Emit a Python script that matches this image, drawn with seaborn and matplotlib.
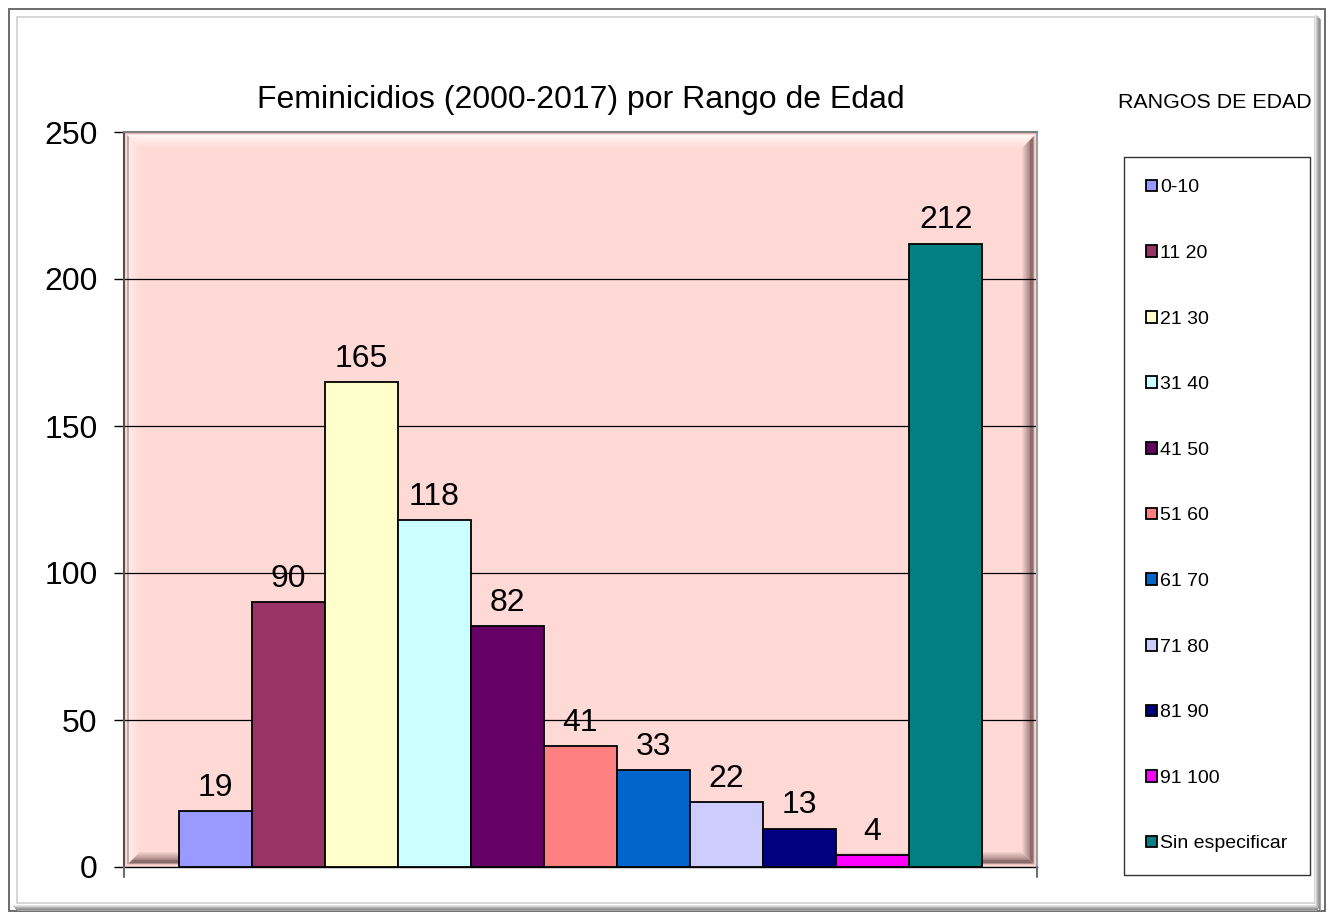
import matplotlib
matplotlib.use("Agg")
import matplotlib.pyplot as plt
import seaborn as sns
import pandas as pd
import numpy as np
from matplotlib.patches import Rectangle, Patch
from matplotlib.lines import Line2D
from matplotlib.colors import to_rgb

categories = ["0-10", "11 20", "21 30", "31 40", "41 50", "51 60",
              "61 70", "71 80", "81 90", "91 100", "Sin especificar"]
values = [19, 90, 165, 118, 82, 41, 33, 22, 13, 4, 212]
colors = ["#9999FF", "#993366", "#FFFFCC", "#CCFFFF", "#660066", "#FF8080",
          "#0066CC", "#CCCCFF", "#000080", "#FF00FF", "#008080"]
yticks = [0, 50, 100, 150, 200, 250]
title = "Feminicidios (2000-2017) por Rango de Edad"
legend_title = "RANGOS DE EDAD"

sns.set_style("white")
plt.rcParams["font.family"] = ["Liberation Sans", "DejaVu Sans"]
for k in ["text.color", "axes.labelcolor", "xtick.color", "ytick.color"]:
    plt.rcParams[k] = "black"

W, H = 1333, 919
fig = plt.figure(figsize=(W / 100, H / 100), dpi=100)
fig.patch.set_facecolor("white")

# outer chart frame
fig.add_artist(Rectangle((8.5 / W, 1 - 911 / H), 1316 / W, 902.5 / H, transform=fig.transFigure,
                         fill=False, edgecolor="#606060", lw=1.3, zorder=0))
fig.add_artist(Rectangle((16.5 / W, 1 - 903 / H), 1298 / W, 886 / H, transform=fig.transFigure,
                         fill=False, edgecolor="#d0d0d0", lw=1.2, zorder=0))
for i, c in enumerate(["#e8e8e8", "#d0d0d0", "#b8b8b8", "#a0a0a0", "#909090", "#a8a8a8"]):
    yy = 1 - (905 + i) / H
    fig.add_artist(Line2D([(12 + i) / W, (1321 - i) / W], [yy, yy], transform=fig.transFigure,
                          color=c, lw=0.8, zorder=0))
    xx = (1315 + i) / W
    fig.add_artist(Line2D([xx, xx], [1 - (905 + i) / H, 1 - (14 + i) / H], transform=fig.transFigure,
                          color=c, lw=0.8, zorder=0))

left, right, top, bottom = 124, 1037, 132, 867
AW, AH = right - left, bottom - top
ax = fig.add_axes([left / W, 1 - bottom / H, AW / W, AH / H])
pink = "#FFD9D6"
ax.set_facecolor(pink)

df = pd.DataFrame({"cat": categories, "val": values})
sns.barplot(data=df, x="cat", y="val", hue="cat", palette=colors, order=categories,
            hue_order=categories, width=1.0, saturation=1, dodge=False, legend=False,
            edgecolor="black", linewidth=1.3, ax=ax, zorder=3)

ax.set_xlim(-1.25, len(categories) - 1 + 1.25)
ax.set_ylim(0, 250)
ax.set_yticks(yticks)
ax.set_yticklabels([str(t) for t in yticks], fontsize=23)
ax.set_xticks([])
ax.set_xlabel("")
ax.set_ylabel("")

# gridlines
for t in yticks[1:]:
    ax.axhline(t, color="black", lw=0.9, zorder=2)

# bevel on plot area (pixel-stepped gradient strips)
def mix(c1, c2, f):
    a, b = np.array(to_rgb(c1)), np.array(to_rgb(c2))
    return tuple(a + (b - a) * f)

n = 14
for i in range(n):
    d = 3 + i
    f = i / (n - 1)
    x0, x1 = d / AW, 1 - d / AW
    y0, y1 = d / AH, 1 - d / AH
    ctop = mix("#fff6f5", pink, f)
    cleft = "#c9aaa8" if i < 2 else mix("#ffeceb", pink, (i - 2) / (n - 3))
    if i < 2:
        cdark = mix("#f0c8c6", "#b09090", i)
    elif i < 5:
        cdark = "#8a6c6a"
    else:
        cdark = mix("#a88886", pink, (i - 5) / (n - 6))
    kw = dict(transform=ax.transAxes, lw=0.75, zorder=1, solid_capstyle="butt")
    ax.plot([x0, x1], [y1, y1], color=ctop, **kw)
    ax.plot([x0, x0], [y0, y1], color=cleft, **kw)
    ax.plot([x1, x1], [y0, y1], color=cdark, **kw)
    ax.plot([x0, x1], [y0, y0], color=cdark, **kw)

ax.spines["top"].set_color("#808080")
ax.spines["top"].set_linewidth(1.5)
ax.spines["right"].set_color("#a0a0a0")
ax.spines["right"].set_linewidth(1.5)
ax.spines["left"].set_color("#505050")
ax.spines["left"].set_linewidth(1.5)
ax.spines["bottom"].set_color("black")
ax.spines["bottom"].set_linewidth(1.0)
ax.tick_params(axis="y", left=True, length=7, width=1, color="black", pad=12)

# category boundary ticks on x axis
for xb in ax.get_xlim():
    ax.plot([xb, xb], [0, -3.5], color="#707070", lw=1.5, clip_on=False, zorder=5)

# data labels
for cont in ax.containers:
    ax.bar_label(cont, fmt="%d", fontsize=23, padding=6)

# title
fig.text((left + right) / 2 / W, 1 - 100 / H, title, ha="center", va="center", fontsize=23)

# legend
handles = [Patch(facecolor=c, edgecolor="black", lw=1.3) for c in colors]
leg = fig.legend(handles, categories, loc="upper left",
                 bbox_to_anchor=(1124 / W, 1 - 157 / H), bbox_transform=fig.transFigure,
                 fontsize=14, frameon=True, fancybox=False, borderpad=1.15,
                 labelspacing=2.5, handlelength=0.55, handleheight=0.55,
                 handletextpad=0.15, borderaxespad=0)
leg.get_frame().set_edgecolor("black")
leg.get_frame().set_linewidth(1.0)
fig.text(1215 / W, 1 - 102 / H, legend_title, ha="center", va="center", fontsize=15.4)

fig.savefig("out.png", dpi=100)
